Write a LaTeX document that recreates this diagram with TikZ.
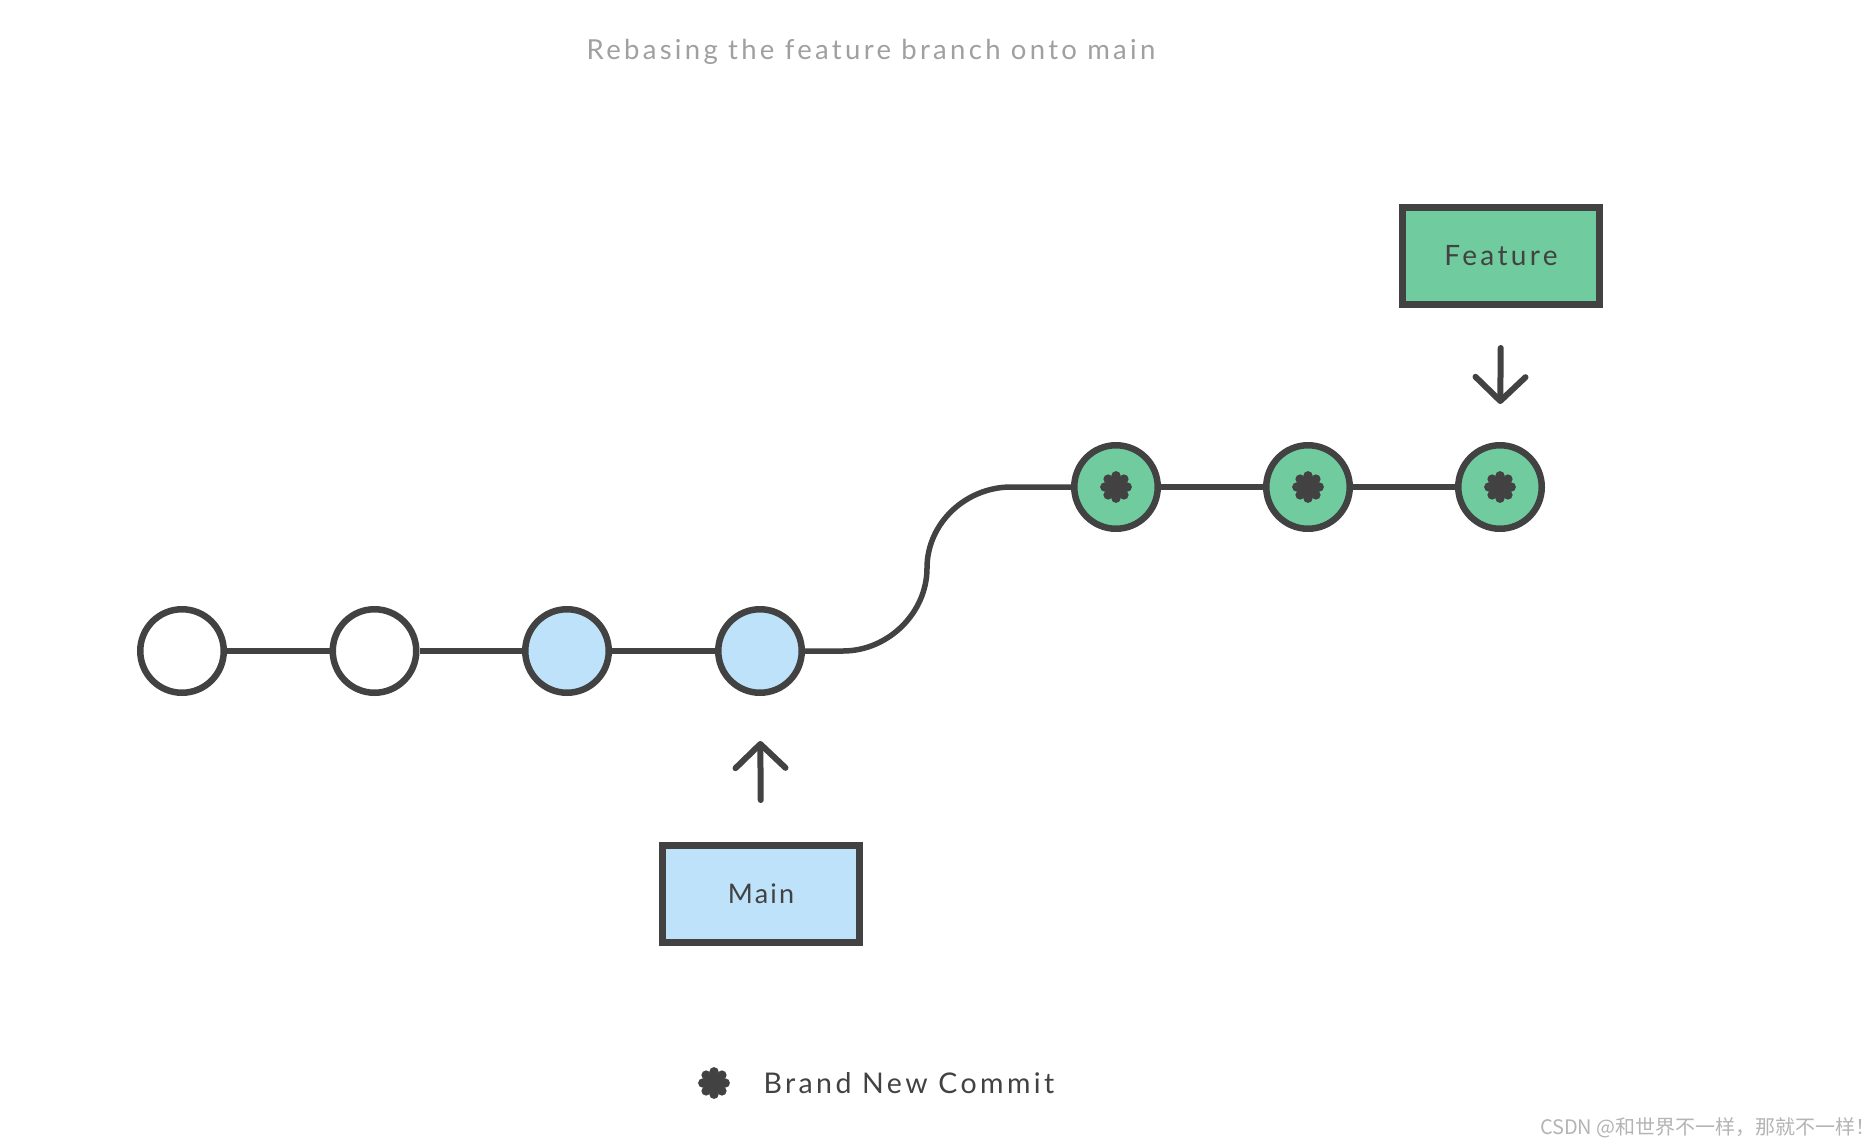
\documentclass[tikz,border=0pt]{standalone}
\usepackage{fontspec}
\setmainfont{Lato}
\newfontfamily\cjk{Noto Sans CJK SC}
\newfontfamily\spaced[LetterSpace=12]{Lato}
\newfontfamily\spacedb[LetterSpace=8]{Lato}
\usetikzlibrary{arrows.meta}
\definecolor{ink}{HTML}{424242}
\definecolor{grn}{HTML}{70CC9F}
\definecolor{blu}{HTML}{BEE2FA}
\definecolor{ttl}{HTML}{A0A0A0}
\definecolor{wm}{HTML}{B4B4B4}
\tikzset{
  commit/.style={circle, draw=ink, line width=6.5pt, minimum size=83.5pt, inner sep=0pt},
  oldc/.style={commit, fill=white},
  mainc/.style={commit, fill=blu},
  newc/.style={commit, fill=grn},
  link/.style={draw=ink, line width=5.5pt},
  label/.style={draw=ink, line width=7pt, minimum width=197pt, minimum height=97pt, inner sep=0pt, text=ink},
  pointer/.style={draw=ink, line width=6pt, line cap=round, -{Straight Barb[length=24pt, width=50pt, round]}},
}
\newcommand\flower[1]{%
  \fill[ink] (#1) circle (9.5pt);
  \foreach \a in {0,45,...,315} \fill[ink] (#1) ++(\a:11.2pt) circle (4.7pt);
}
\begin{document}
\begin{tikzpicture}[x=1pt, y=-1pt]
\useasboundingbox (0,0) rectangle (1876,1148);
\fill[white] (0,0) rectangle (1876,1148);
\node[text=ttl, font=\spaced\fontsize{27.5}{32}\selectfont] (title) at (871,51.5) {Rebasing the feature branch onto main};
% commits
\node[oldc] (c1) at (182,651) {};
\node[oldc] (c2) at (374.5,651) {};
\node[mainc] (c3) at (567,651) {};
\node[mainc] (c4) at (760,651) {};
\node[newc] (c5) at (1116,487) {};
\node[newc] (c6) at (1308,487) {};
\node[newc] (c7) at (1500,487) {};
\coordinate (k1) at (843,651);
\coordinate (k2) at (927,568);
\coordinate (k3) at (1011,487);
\draw[link] (c1) -- (c2);
\draw[link] (c2) -- (c3);
\draw[link] (c3) -- (c4);
\draw[link] (c4.east) -- (k1) .. controls (888,651) and (927,613) .. (k2) .. controls (927,523) and (966,487) .. (k3) -- (c5.west);
\draw[link] (c5) -- (c6);
\draw[link] (c6) -- (c7);
\flower{c5}
\flower{c6}
\flower{c7}
% branch labels
\node[label, fill=blu, font=\spacedb\fontsize{27}{30}\selectfont] (main) at (761,894) {Main};
\node[label, fill=grn, font=\spaced\fontsize{28}{30}\selectfont] (feature) at (1501,256) {Feature};
\draw[pointer, shorten <=42pt, shorten >=45pt] (main.north) -- (c4.south);
\draw[pointer, shorten <=40pt, shorten >=38pt] (feature.south) -- (c7.north);
% legend
\coordinate (lg) at (714,1083);
\flower{lg}
\node[anchor=west, text=ink, font=\spaced\fontsize{28.5}{32}\selectfont] (legend) at (760,1083) {Brand New Commit};
\node[anchor=east, inner sep=0pt, text=wm, font=\cjk\fontsize{20}{24}\selectfont] (wmk) at (1876,1128) {CSDN @和世界不一样，那就不一样！};
\end{tikzpicture}
\end{document}
